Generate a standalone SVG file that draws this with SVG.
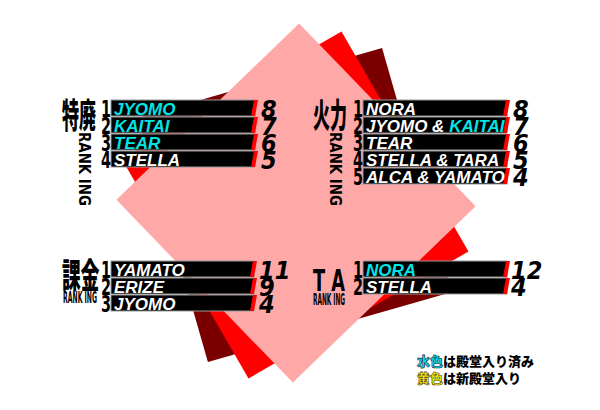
<svg xmlns="http://www.w3.org/2000/svg" width="600" height="410" viewBox="0 0 600 410">
<defs>
<style>
.bar{fill:#000;stroke:#999;stroke-width:1}
.n{font-family:"Liberation Sans",Arial,sans-serif;font-weight:bold;font-style:italic;font-size:17px;fill:#fff}
.c{fill:#00e5e5}
.rk{font-family:"DejaVu Sans Condensed","Liberation Sans",sans-serif;font-weight:bold;font-size:23px;fill:#000;text-anchor:end}
.sc{font-family:"DejaVu Sans Condensed","Liberation Sans",sans-serif;font-weight:bold;font-style:italic;font-size:25px;fill:#000}
.ttl{font-family:"Noto Sans CJK JP",sans-serif;font-weight:900;font-size:34px;fill:#000}
.rn{font-family:"DejaVu Sans Condensed","Liberation Sans",sans-serif;font-weight:bold;font-size:15px;fill:#000}
.lg{font-family:"Noto Sans CJK JP",sans-serif;font-weight:900;font-size:13px;fill:#000}
</style>
<polygon id="sq" points="-127,-127 127,-127 127,127 -127,127"/>
<path id="stripe" d="M4,0 L8,0 L5,16 L1,16 Z" fill="#f00"/>
</defs>
<rect width="600" height="410" fill="#fff"/>
<g id="background">
<use href="#sq" fill="#7a0000" transform="translate(295,205) rotate(74)"/>
<use href="#sq" fill="#ff0000" transform="translate(295,205) rotate(60)"/>
<use href="#sq" fill="#ffa8a8" transform="translate(296,203) rotate(46)"/>
</g>
<g id="tokuhai">
<text class="ttl" transform="translate(62,128) scale(0.5,1)">特廃</text>
<text class="rn" transform="translate(79,132) rotate(90)" textLength="74" lengthAdjust="spacingAndGlyphs">RANK ING</text>
<g transform="translate(0,100)">
<rect class="bar" x="111" y="0" width="144" height="16"/><use href="#stripe" x="250"/>
<text class="rk" x="111" y="17" textLength="10" lengthAdjust="spacingAndGlyphs">1</text><text class="n c" x="114" y="15">JYOMO</text><text class="sc" x="261" y="18">8</text>
</g>
<g transform="translate(0,117)">
<rect class="bar" x="111" y="0" width="144" height="16"/><use href="#stripe" x="250"/>
<text class="rk" x="111" y="17" textLength="10" lengthAdjust="spacingAndGlyphs">2</text><text class="n c" x="114" y="15">KAITAI</text><text class="sc" x="261" y="18">7</text>
</g>
<g transform="translate(0,134)">
<rect class="bar" x="111" y="0" width="144" height="16"/><use href="#stripe" x="250"/>
<text class="rk" x="111" y="17" textLength="10" lengthAdjust="spacingAndGlyphs">3</text><text class="n c" x="114" y="15">TEAR</text><text class="sc" x="261" y="18">6</text>
</g>
<g transform="translate(0,151)">
<rect class="bar" x="111" y="0" width="144" height="16"/><use href="#stripe" x="250"/>
<text class="rk" x="111" y="17" textLength="10" lengthAdjust="spacingAndGlyphs">4</text><text class="n" x="114" y="15">STELLA</text><text class="sc" x="261" y="18">5</text>
</g>
</g>
<g id="karyoku">
<text class="ttl" transform="translate(313,128) scale(0.5,1)">火力</text>
<text class="rn" transform="translate(330,132) rotate(90)" textLength="74" lengthAdjust="spacingAndGlyphs">RANK ING</text>
<g transform="translate(0,100)">
<rect class="bar" x="363" y="0" width="144" height="16"/><use href="#stripe" x="502"/>
<text class="rk" x="363" y="17" textLength="10" lengthAdjust="spacingAndGlyphs">1</text><text class="n" x="366" y="15">NORA</text><text class="sc" x="513" y="18">8</text>
</g>
<g transform="translate(0,117)">
<rect class="bar" x="363" y="0" width="144" height="16"/><use href="#stripe" x="502"/>
<text class="rk" x="363" y="17" textLength="10" lengthAdjust="spacingAndGlyphs">2</text><text class="n" x="366" y="15">JYOMO &amp; <tspan class="c">KAITAI</tspan></text><text class="sc" x="513" y="18">7</text>
</g>
<g transform="translate(0,134)">
<rect class="bar" x="363" y="0" width="144" height="16"/><use href="#stripe" x="502"/>
<text class="rk" x="363" y="17" textLength="10" lengthAdjust="spacingAndGlyphs">3</text><text class="n" x="366" y="15">TEAR</text><text class="sc" x="513" y="18">6</text>
</g>
<g transform="translate(0,151)">
<rect class="bar" x="363" y="0" width="144" height="16"/><use href="#stripe" x="502"/>
<text class="rk" x="363" y="17" textLength="10" lengthAdjust="spacingAndGlyphs">4</text><text class="n" x="366" y="15">STELLA &amp; TARA</text><text class="sc" x="513" y="18">5</text>
</g>
<g transform="translate(0,168)">
<rect class="bar" x="363" y="0" width="144" height="16"/><use href="#stripe" x="502"/>
<text class="rk" x="363" y="17" textLength="10" lengthAdjust="spacingAndGlyphs">5</text><text class="n" x="366" y="15">ALCA &amp; YAMATO</text><text class="sc" x="513" y="18">4</text>
</g>
</g>
<g id="kakin">
<text class="ttl" font-size="30" transform="translate(62,288) scale(0.55,1)">課金</text>
<text class="rn" x="63" y="303" font-size="9" textLength="34" lengthAdjust="spacingAndGlyphs">RANK ING</text>
<g transform="translate(0,261)">
<rect class="bar" x="111" y="0" width="143" height="16"/><use href="#stripe" x="249"/>
<text class="rk" x="111" y="17" textLength="10" lengthAdjust="spacingAndGlyphs">1</text><text class="n" x="114" y="15">YAMATO</text><text class="sc" x="259" y="18">11</text>
</g>
<g transform="translate(0,278)">
<rect class="bar" x="111" y="0" width="143" height="16"/><use href="#stripe" x="249"/>
<text class="rk" x="111" y="17" textLength="10" lengthAdjust="spacingAndGlyphs">2</text><text class="n" x="114" y="15">ERIZE</text><text class="sc" x="259" y="18">9</text>
</g>
<g transform="translate(0,295)">
<rect class="bar" x="111" y="0" width="143" height="16"/><use href="#stripe" x="249"/>
<text class="rk" x="111" y="17" textLength="10" lengthAdjust="spacingAndGlyphs">3</text><text class="n" x="114" y="15">JYOMO</text><text class="sc" x="259" y="18">4</text>
</g>
</g>
<g id="ta">
<text x="313" y="291" font-family="DejaVu Sans Condensed,sans-serif" font-weight="bold" font-size="30" textLength="32" lengthAdjust="spacingAndGlyphs">T A</text>
<text class="rn" x="313" y="305" font-size="9" textLength="32" lengthAdjust="spacingAndGlyphs">RANK ING</text>
<g transform="translate(0,261)">
<rect class="bar" x="363" y="0" width="144" height="16"/><use href="#stripe" x="502"/>
<text class="rk" x="363" y="17" textLength="10" lengthAdjust="spacingAndGlyphs">1</text><text class="n c" x="366" y="15">NORA</text><text class="sc" x="511" y="18">12</text>
</g>
<g transform="translate(0,278)">
<rect class="bar" x="363" y="0" width="144" height="16"/><use href="#stripe" x="502"/>
<text class="rk" x="363" y="17" textLength="10" lengthAdjust="spacingAndGlyphs">2</text><text class="n" x="366" y="15">STELLA</text><text class="sc" x="511" y="18">4</text>
</g>
</g>
<g id="legend">
<text class="lg" x="417" y="366"><tspan fill="#00e5e5" stroke="#224" stroke-width="0.6">水色</tspan>は殿堂入り済み</text>
<text class="lg" x="417" y="383"><tspan fill="#ffee00" stroke="#442" stroke-width="0.6">黄色</tspan>は新殿堂入り</text>
</g>
</svg>
